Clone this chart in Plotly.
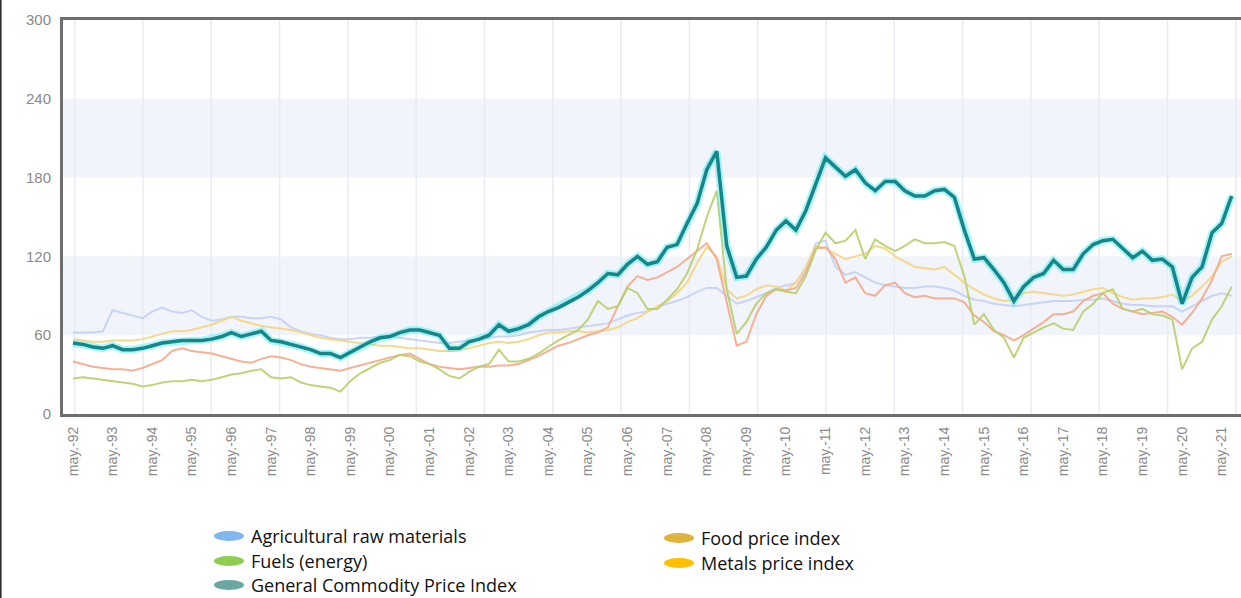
import pandas as pd
import plotly.graph_objects as go

# Quarterly observations (May 1992 ... Aug 2021)
start_month = "1992-05-01"

general = [54, 53, 51, 50, 52, 49, 49, 50, 52, 54, 55, 56, 56, 56, 57, 59, 62, 59, 61, 63,
           56, 55, 53, 51, 49, 46, 46, 43, 47, 51, 55, 58, 59, 62, 64, 64, 62, 60, 50, 50,
           55, 57, 60, 68, 63, 65, 68, 74, 78, 81, 85, 89, 94, 100, 107, 106, 114, 120, 114, 116,
           127, 129, 145, 160, 186, 200, 128, 104, 105, 118, 127, 140, 147, 140, 155, 175, 195, 188, 181, 186,
           176, 170, 177, 177, 170, 166, 166, 170, 171, 165, 140, 118, 119, 110, 100, 86, 97, 104, 107, 117,
           110, 110, 122, 129, 132, 133, 126, 119, 124, 117, 118, 112, 84, 104, 112, 138, 145, 166]

metals = [40, 38, 36, 35, 34, 34, 33, 35, 38, 41, 48, 50, 48, 47, 46, 44, 42, 40, 39, 42,
          44, 43, 41, 38, 36, 35, 34, 33, 35, 37, 39, 41, 43, 45, 46, 42, 38, 36, 35, 34,
          35, 36, 36, 37, 37, 38, 41, 44, 48, 52, 54, 57, 60, 62, 66, 82, 97, 105, 102, 104,
          108, 112, 118, 124, 130, 118, 85, 52, 55, 76, 90, 95, 94, 96, 108, 126, 127, 118, 100, 104,
          92, 90, 98, 100, 92, 89, 90, 88, 88, 88, 85, 75, 70, 63, 60, 56, 60, 65, 70, 76,
          76, 78, 86, 90, 92, 84, 80, 78, 76, 77, 78, 74, 68, 77, 88, 102, 120, 122]

food = [57, 56, 55, 55, 56, 56, 56, 57, 59, 61, 63, 63, 64, 66, 68, 71, 74, 71, 69, 67,
        66, 65, 64, 62, 60, 58, 57, 56, 55, 54, 53, 52, 52, 51, 50, 50, 49, 48, 48, 49,
        50, 52, 54, 55, 54, 55, 57, 60, 62, 62, 63, 63, 62, 63, 64, 66, 70, 73, 78, 82,
        86, 92, 100, 115, 127, 120, 95, 88, 90, 95, 98, 97, 94, 100, 112, 128, 126, 122, 118, 120,
        122, 128, 126, 120, 116, 112, 111, 110, 112, 106, 100, 95, 91, 88, 86, 87, 92, 93, 92, 91,
        90, 91, 93, 95, 96, 92, 89, 87, 88, 88, 89, 91, 86, 90, 97, 105, 116, 120]

fuels = [27, 28, 27, 26, 25, 24, 23, 21, 22, 24, 25, 25, 26, 25, 26, 28, 30, 31, 33, 34,
         28, 27, 28, 24, 22, 21, 20, 17, 25, 31, 35, 39, 41, 45, 44, 40, 38, 34, 29, 27,
         32, 36, 38, 49, 40, 40, 42, 46, 51, 56, 60, 64, 72, 86, 80, 82, 96, 92, 80, 80,
         87, 95, 107, 125, 150, 170, 95, 61, 70, 84, 92, 95, 93, 92, 105, 125, 138, 130, 132, 140,
         118, 133, 128, 124, 128, 133, 130, 130, 131, 128, 105, 68, 76, 64, 58, 43, 58, 62, 66, 69,
         65, 64, 78, 84, 92, 95, 80, 78, 80, 76, 75, 72, 34, 50, 55, 72, 82, 97]

agricultural = [62, 62, 62, 63, 79, 77, 75, 73, 78, 81, 78, 77, 79, 74, 71, 72, 74, 74, 73, 73,
                74, 72, 66, 63, 61, 60, 58, 57, 57, 58, 58, 59, 59, 58, 57, 56, 55, 54, 54, 55,
                56, 57, 58, 59, 59, 60, 62, 63, 64, 64, 65, 66, 67, 68, 69, 72, 75, 77, 78, 81,
                84, 86, 89, 93, 96, 96, 90, 84, 86, 89, 92, 96, 98, 100, 110, 130, 132, 112, 106, 108,
                104, 100, 98, 97, 96, 96, 97, 97, 96, 94, 90, 87, 86, 84, 83, 82, 83, 84, 85, 86,
                86, 86, 87, 87, 88, 86, 84, 83, 83, 82, 82, 82, 78, 82, 86, 90, 92, 90]

tick_years = list(range(1992, 2022))
tick_labels = ["may.-%02d" % (y % 100) for y in tick_years]

series_names = ["Agricultural raw materials", "Fuels (energy)", "General Commodity Price Index",
                "Food price index", "Metals price index"]
legend_colors = ["#82b6ee", "#8fcd52", "#6aa7a0", "#dfb43c", "#ffc000"]

dates = pd.date_range(start_month, periods=len(general), freq="3MS")
tick_vals = [pd.Timestamp(f"{y}-05-01") for y in tick_years]

fig = go.Figure()

def add_line(vals, color, width):
    fig.add_trace(go.Scatter(x=dates, y=vals, mode="lines",
                             line=dict(color=color, width=width),
                             showlegend=False, hoverinfo="skip"))

add_line(agricultural, "rgba(196,208,244,0.9)", 2)
add_line(food, "rgba(243,214,128,0.9)", 2)
add_line(metals, "rgba(244,168,138,0.9)", 2)
add_line(fuels, "rgba(184,206,108,0.9)", 2)
add_line(general, "rgba(70,232,236,0.45)", 7.5)
add_line(general, "#15868a", 3.5)

# plot-area pixel geometry
L, R, T, B = 63, 0, 20, 184
W = 1241 - L - R
H = 598 - T - B

shapes = []
for y0, y1 in [(60, 120), (180, 240)]:
    shapes.append(dict(type="rect", xref="paper", yref="y", x0=0, x1=1, y0=y0, y1=y1,
                       fillcolor="#f1f4fb", line=dict(width=0), layer="below"))
for i in range(-1, 17):
    px = 143 + 68.3 * i - L
    if 0 < px < W:
        shapes.append(dict(type="line", xref="paper", yref="paper", x0=px / W, x1=px / W,
                           y0=0, y1=1, line=dict(color="#e8ebf2", width=1.5), layer="below"))
# outer left frame line of the image
shapes.append(dict(type="line", xref="paper", yref="paper", x0=(0.8 - L) / W, x1=(0.8 - L) / W,
                   y0=-(B) / H, y1=(T + H) / H, line=dict(color="#222222", width=1.5)))

def py(pix):
    return (T + H - pix) / H

def pxf(pix):
    return (pix - L) / W

legend_pos = [(229, 536), (229, 561), (229, 585), (679, 538), (679, 563)]
annotations = []
for name, col, (cx, cy) in zip(series_names, legend_colors, legend_pos):
    shapes.append(dict(type="circle", xref="paper", yref="paper",
                       x0=pxf(cx - 15), x1=pxf(cx + 15), y0=py(cy + 5), y1=py(cy - 5),
                       fillcolor=col, line=dict(width=0)))
    annotations.append(dict(xref="paper", yref="paper", x=pxf(cx + 20), y=py(cy),
                            xanchor="left", yanchor="middle", showarrow=False, text=name,
                            font=dict(family="Open Sans, Noto Sans, sans-serif", size=18, color="#111111")))

fig.update_layout(
    width=1241, height=598,
    margin=dict(l=L, r=R, t=T, b=B, pad=0),
    paper_bgcolor="white", plot_bgcolor="white",
    shapes=shapes, annotations=annotations,
    showlegend=False,
    xaxis=dict(type="date", range=["1992-01-30", "2021-10-26"],
               tickvals=tick_vals, ticktext=tick_labels, tickangle=-90,
               tickfont=dict(family="Liberation Sans, Arial, sans-serif", size=14, color="#8a8a8a"),
               showgrid=False, zeroline=False, ticks="outside", ticklen=4, tickcolor="white",
               showline=True, linecolor="#6e6e6e", linewidth=3, mirror=True),
    yaxis=dict(range=[0, 300], tickvals=[0, 60, 120, 180, 240, 300],
               tickfont=dict(family="Liberation Sans, Arial, sans-serif", size=15, color="#8a8a8a"),
               showgrid=False, zeroline=False, ticks="outside", ticklen=6, tickcolor="white",
               showline=True, linecolor="#6e6e6e", linewidth=3, mirror=False),
)

fig.write_html("out.html", config={"displayModeBar": False},
               post_script="document.body.style.margin='0';document.body.style.overflow='hidden';")
